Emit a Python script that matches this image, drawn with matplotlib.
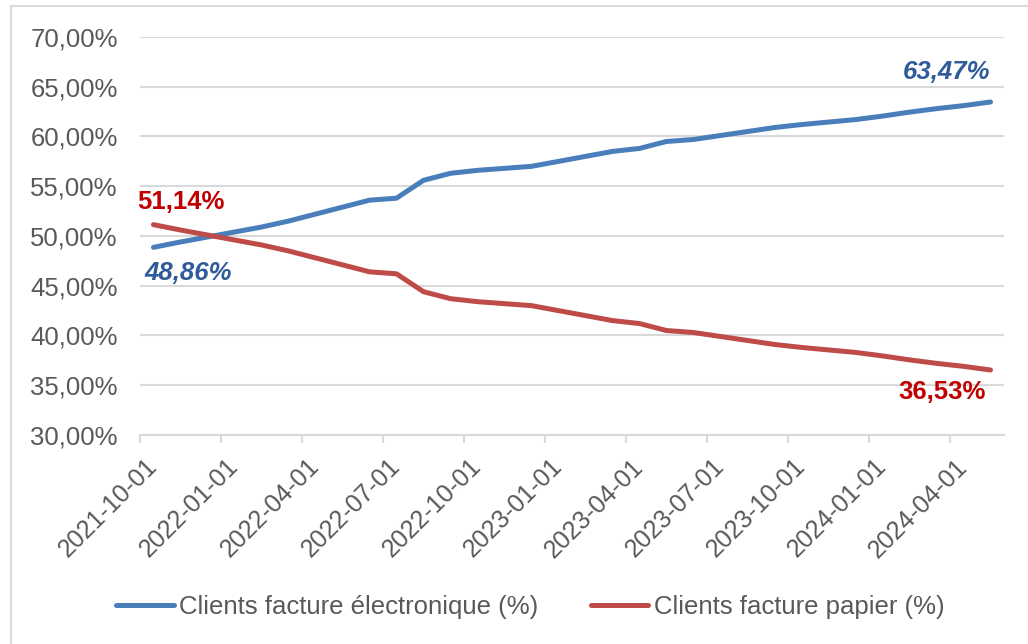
import matplotlib
matplotlib.use("Agg")
import matplotlib.pyplot as plt
import numpy as np
import pandas as pd
from matplotlib.ticker import FuncFormatter
from matplotlib.patches import Rectangle

# monthly share of customers, 2021-10 .. 2024-05
months = pd.date_range("2021-10-01", "2024-05-01", freq="MS")
electronique = [48.86, 49.4, 49.9, 50.4, 50.9, 51.5, 52.2, 52.9, 53.6, 53.8,
                55.6, 56.3, 56.6, 56.8, 57.0, 57.5, 58.0, 58.5, 58.8, 59.5,
                59.7, 60.1, 60.5, 60.9, 61.2, 61.45, 61.7, 62.05, 62.45, 62.8,
                63.1, 63.47]
papier = [51.14, 50.6, 50.1, 49.6, 49.1, 48.5, 47.8, 47.1, 46.4, 46.2,
          44.4, 43.7, 43.4, 43.2, 43.0, 42.5, 42.0, 41.5, 41.2, 40.5,
          40.3, 39.9, 39.5, 39.1, 38.8, 38.55, 38.3, 37.95, 37.55, 37.2,
          36.9, 36.53]
labels = ["Clients facture électronique (%)", "Clients facture papier (%)"]

plt.rcParams["font.family"] = ["Liberation Sans", "DejaVu Sans"]
grey = "#595959"
blue, red = "#4A7EBB", "#BE4B48"


def pct(v, pos=None):
    return f"{v:.2f}%".replace(".", ",")


fig = plt.figure(figsize=(10.28, 6.44), dpi=100)
ax = fig.add_axes([140 / 1028, 1 - 435 / 644, 864 / 1028, 398 / 644])

x = np.arange(len(months))
ax.plot(x, electronique, color=blue, lw=3.6, solid_capstyle="round", label=labels[0], zorder=3)
ax.plot(x, papier, color=red, lw=3.6, solid_capstyle="round", label=labels[1], zorder=3)

ax.set_xlim(-0.5, len(months) - 0.5)
ax.set_ylim(30, 70)
ax.set_yticks(np.arange(30, 71, 5))
ax.yaxis.set_major_formatter(FuncFormatter(pct))
ax.grid(axis="y", color="#d9d9d9", lw=1.5)
ax.set_axisbelow(True)
for s in ["top", "right", "left"]:
    ax.spines[s].set_visible(False)
ax.spines["bottom"].set_color("#d9d9d9")
ax.spines["bottom"].set_linewidth(1.5)
ax.tick_params(axis="y", length=0, pad=16, labelsize=18.5, labelcolor=grey)

# tick marks between categories, labels on every third month
ax.set_xticks(np.arange(-0.5, len(months) - 1, 3))
ax.set_xticklabels([])
ax.tick_params(axis="x", which="major", length=6, color="#d9d9d9", width=1.5)
ax.set_xticks(x[::3], minor=True)
ax.set_xticklabels(months[::3].strftime("%Y-%m-%d"), minor=True, rotation=45,
                   ha="right", va="center", rotation_mode="anchor")
ax.tick_params(axis="x", which="minor", length=0, pad=20, labelsize=18, labelcolor=grey)

# first / last value labels
ax.annotate(pct(papier[0]), (0, papier[0]), xytext=(20, 16), textcoords="offset points",
            ha="center", va="center", fontsize=18.5, fontweight="bold", color="#C00000")
ax.annotate(pct(electronique[0]), (0, electronique[0]), xytext=(25, -18.5), textcoords="offset points",
            ha="center", va="center", fontsize=18.5, fontweight="bold", fontstyle="italic", color="#2F5B9A")
ax.annotate(pct(electronique[-1]), (x[-1], electronique[-1]), xytext=(-32, 21.5), textcoords="offset points",
            ha="center", va="center", fontsize=18.5, fontweight="bold", fontstyle="italic", color="#2F5B9A")
ax.annotate(pct(papier[-1]), (x[-1], papier[-1]), xytext=(-35, -16), textcoords="offset points",
            ha="center", va="center", fontsize=18.5, fontweight="bold", color="#C00000")

fig.legend(loc="center", bbox_to_anchor=(530 / 1028, 1 - 607 / 644), ncol=2, frameon=False,
           fontsize=18.5, handlelength=2.25, handletextpad=0.2, columnspacing=2.05, labelcolor=grey)

fig.patches.append(Rectangle((11 / 1028, -0.1), 1.2, 1.1 - 6 / 644, transform=fig.transFigure,
                             fill=False, edgecolor="#d9d9d9", lw=1.5))

fig.savefig("out.png", dpi=100)
